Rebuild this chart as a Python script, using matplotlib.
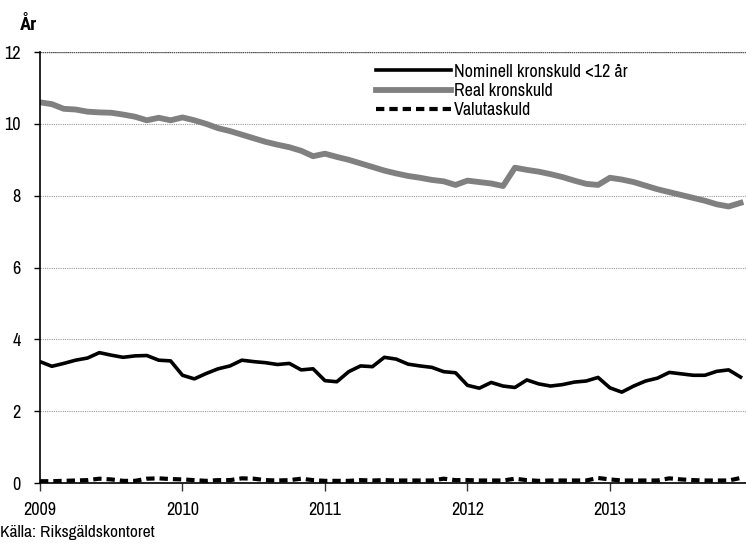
import numpy as np
import matplotlib
matplotlib.use("Agg")
import matplotlib.pyplot as plt

plt.rcParams["font.family"] = ["Archivo Narrow", "Roboto Condensed", "DejaVu Sans"]

# monthly, Jan 2009 - Dec 2013
nominell = [3.38, 3.25, 3.33, 3.42, 3.48, 3.63, 3.56, 3.50, 3.54, 3.55, 3.42, 3.40,
            3.00, 2.90, 3.05, 3.18, 3.26, 3.42, 3.38, 3.35, 3.30, 3.33, 3.15, 3.18,
            2.85, 2.82, 3.10, 3.26, 3.24, 3.50, 3.45, 3.31, 3.26, 3.22, 3.10, 3.07,
            2.72, 2.64, 2.80, 2.70, 2.66, 2.87, 2.76, 2.70, 2.74, 2.81, 2.84, 2.94,
            2.65, 2.53, 2.70, 2.84, 2.92, 3.08, 3.04, 3.00, 3.00, 3.11, 3.15, 2.95]
real = [10.60, 10.55, 10.42, 10.40, 10.34, 10.32, 10.31, 10.26, 10.20, 10.10, 10.17, 10.10,
        10.18, 10.10, 10.00, 9.88, 9.80, 9.70, 9.60, 9.50, 9.42, 9.35, 9.25, 9.10,
        9.17, 9.08, 9.00, 8.90, 8.80, 8.70, 8.62, 8.55, 8.50, 8.44, 8.40, 8.30,
        8.42, 8.38, 8.34, 8.27, 8.78, 8.72, 8.67, 8.60, 8.52, 8.42, 8.33, 8.30,
        8.50, 8.45, 8.38, 8.28, 8.18, 8.10, 8.02, 7.94, 7.86, 7.76, 7.70, 7.80]
valuta = [0.05, 0.05, 0.06, 0.07, 0.08, 0.12, 0.10, 0.06, 0.06, 0.12, 0.13, 0.11,
          0.10, 0.08, 0.06, 0.08, 0.08, 0.13, 0.12, 0.08, 0.07, 0.08, 0.12, 0.08,
          0.06, 0.06, 0.06, 0.08, 0.07, 0.08, 0.07, 0.07, 0.07, 0.07, 0.12, 0.08,
          0.08, 0.07, 0.07, 0.07, 0.12, 0.08, 0.06, 0.07, 0.07, 0.07, 0.07, 0.14,
          0.10, 0.07, 0.07, 0.07, 0.07, 0.13, 0.10, 0.08, 0.07, 0.07, 0.07, 0.14]
year_ticks = [2009, 2010, 2011, 2012, 2013]
x = 2009 + np.arange(len(real)) / 12.0

fig = plt.figure(figsize=(7.46, 5.48), dpi=100)
ax = fig.add_axes([0.0536, 0.1186, 0.9464, 0.7864])

ax.plot(x, nominell, color="black", lw=2.6, label="Nominell kronskuld <12 år")
ax.plot(x, real, color="#808080", lw=4.2, label="Real kronskuld")
ax.plot(x, valuta, color="black", lw=3.0, ls=(0, (2.0, 1.2)), label="Valutaskuld")

ax.set_xlim(2009, 2013.955)
ax.set_ylim(0, 12)
ax.set_yticks(range(0, 13, 2))
ax.set_xticks(year_ticks)
ax.set_xticklabels([str(y) for y in year_ticks])
ax.yaxis.grid(True, ls=(0, (1, 1)), color="#999999", lw=0.8)
ax.axhline(12, color="#555555", ls=(0, (1, 0.5)), lw=1.0)

for s in ("top", "right"):
    ax.spines[s].set_visible(False)
ax.spines["left"].set_linewidth(1.2)
ax.spines["bottom"].set_linewidth(1.2)
ax.tick_params(axis="x", direction="out", length=6, width=1, labelsize=13, pad=8, color="#333333")
ax.tick_params(axis="y", direction="out", length=4, width=1, labelsize=13, pad=10)

ax.legend(loc="upper left", bbox_to_anchor=(0.46, 1.0), frameon=False, fontsize=13,
          handlelength=4.1, handletextpad=0.2, labelspacing=0.18, borderaxespad=0.25)

fig.text(0.027, 0.955, "År", fontsize=13.5, fontweight="bold", va="center",
         family=["Roboto Condensed", "DejaVu Sans"])
fig.text(0.0, 0.028, "Källa: Riksgäldskontoret", fontsize=12.5, va="center")

fig.savefig("out.png", dpi=100)
